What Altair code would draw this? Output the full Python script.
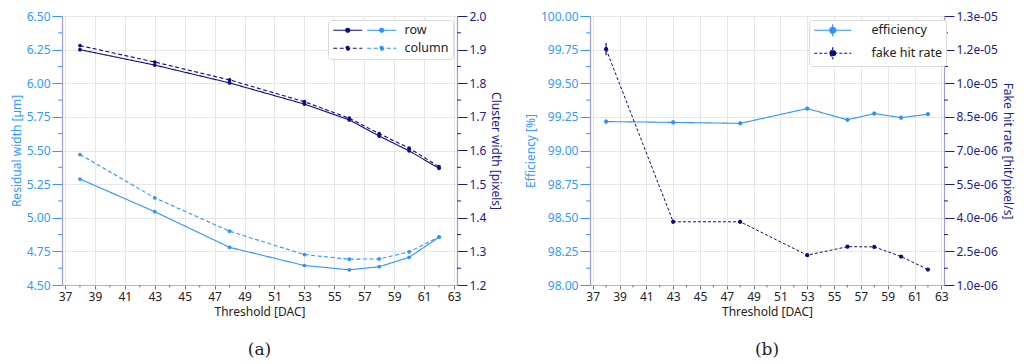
import altair as alt
import pandas as pd

# ---------------- data ----------------
threshold = [38, 43, 48, 53, 56, 58, 60, 62]
residual_row = [5.288, 5.045, 4.780, 4.645, 4.613, 4.636, 4.706, 4.855]
residual_col = [5.470, 5.148, 4.900, 4.726, 4.692, 4.694, 4.746, 4.858]
cluster_row = [1.900, 1.854, 1.801, 1.738, 1.691, 1.643, 1.599, 1.547]
cluster_col = [1.912, 1.863, 1.810, 1.745, 1.696, 1.650, 1.607, 1.552]
efficiency = [99.215, 99.209, 99.202, 99.312, 99.228, 99.275, 99.244, 99.270]
efficiency_err = [0.016, 0.014, 0.014, 0.014, 0.014, 0.014, 0.014, 0.014]
fake_hit_rate_e6 = [11.52, 3.82, 3.82, 2.33, 2.71, 2.70, 2.27, 1.69]
fake_hit_rate_err_e6 = [0.27, 0.09, 0.09, 0.07, 0.07, 0.07, 0.06, 0.06]

directions = ["row", "column"]
series_names = ["efficiency", "fake hit rate"]

x_ticks = [37, 39, 41, 43, 45, 47, 49, 51, 53, 55, 57, 59, 61, 63]
x_minor = [38, 40, 42, 44, 46, 48, 50, 52, 54, 56, 58, 60, 62]
res_ticks = [4.5, 4.75, 5.0, 5.25, 5.5, 5.75, 6.0, 6.25, 6.5]
res_minor = [4.625, 4.875, 5.125, 5.375, 5.625, 5.875, 6.125, 6.375]
clw_ticks = [1.2, 1.3, 1.4, 1.5, 1.6, 1.7, 1.8, 1.9, 2.0]
clw_minor = [1.25, 1.35, 1.45, 1.55, 1.65, 1.75, 1.85, 1.95]
eff_ticks = [98.0, 98.25, 98.5, 98.75, 99.0, 99.25, 99.5, 99.75, 100.0]
eff_minor = [98.125, 98.375, 98.625, 98.875, 99.125, 99.375, 99.625, 99.875]
fhr_ticks = [1.0, 2.5, 4.0, 5.5, 7.0, 8.5, 10.0, 11.5, 13.0]
fhr_tick_labels = ["1.0e-06", "2.5e-06", "4.0e-06", "5.5e-06", "7.0e-06",
                   "8.5e-06", "1.0e-05", "1.2e-05", "1.3e-05"]
fhr_minor = [1.75, 3.25, 4.75, 6.25, 7.75, 9.25, 10.75, 12.25]

# ---------------- style ----------------
NAVY = "#0c0c82"
LIGHT = "#2e93fb"
NAVY_TXT = "#1c1c8c"
LIGHT_TXT = "#3399ff"
GRID = "#e6e6e6"
DOMAIN = "#9c9cd2"
FONT = "Noto Sans"
W1, W2, H = 395, 354, 269
PANEL_SHIFT = 534   # offset of panel (b) plot origin from panel (a) plot origin

# ---------------- tables ----------------
res_df = pd.DataFrame({"t": threshold * 2, "v": residual_row + residual_col,
                       "dir": [directions[0]] * len(threshold) + [directions[1]] * len(threshold)})
clw_df = pd.DataFrame({"t": threshold * 2, "v": cluster_row + cluster_col,
                       "dir": [directions[0]] * len(threshold) + [directions[1]] * len(threshold)})
eff_df = pd.DataFrame({"t": threshold, "v": efficiency, "s": series_names[0]})
eff_df["lo"] = [v - e for v, e in zip(efficiency, efficiency_err)]
eff_df["hi"] = [v + e for v, e in zip(efficiency, efficiency_err)]
fhr_df = pd.DataFrame({"t": threshold, "v": fake_hit_rate_e6, "s": series_names[1]})
fhr_df["lo"] = [v - e for v, e in zip(fake_hit_rate_e6, fake_hit_rate_err_e6)]
fhr_df["hi"] = [v + e for v, e in zip(fake_hit_rate_e6, fake_hit_rate_err_e6)]

xs = alt.Scale(domain=[36.8, 63.2], nice=False, zero=False)
xaxis = alt.Axis(values=x_ticks, format="d", title="Threshold [DAC]", grid=True, gridColor=GRID,
                 domainColor="#b4b4c8", tickColor="#777777", tickSize=4, labelPadding=2,
                 labelColor="#222222", titleColor="#222222", labelFont=FONT, titleFont=FONT,
                 labelFontSize=12, titleFontSize=12, titleFontWeight="normal", titlePadding=4)


def yaxis(orient, values, fmt, title, color, grid, label_expr=None):
    kw = dict(orient=orient, values=values, format=fmt, title=title, grid=grid,
              gridColor=GRID, domainColor=DOMAIN, domainWidth=1.2, tickColor=color,
              tickSize=10, labelPadding=2, labelColor=color, titleColor=color,
              labelFont=FONT, titleFont=FONT, labelFontSize=12, titleFontSize=12,
              titleFontWeight="normal", titlePadding=3)
    if label_expr:
        kw["labelExpr"] = label_expr
    return alt.Axis(**kw)


def xenc(field):
    return alt.X(f"{field}:Q", scale=xs, axis=xaxis)


def minor_y(values, scale, axis, color, right, width):
    df = pd.DataFrame({"m": values})
    x0 = width if right else 0
    x1 = width + 4 if right else -4
    return alt.Chart(df).mark_rule(color=color, strokeWidth=1).encode(
        y=alt.Y("m:Q", scale=scale, axis=axis), x=alt.value(x0), x2=alt.value(x1))


def minor_x():
    df = pd.DataFrame({"m": x_minor})
    return alt.Chart(df).mark_rule(color="#777777", strokeWidth=1).encode(
        x=xenc("m"), y=alt.value(H), y2=alt.value(H + 2.5))


dash_scale = alt.Scale(domain=directions, range=[[1, 0], [4, 2.5]])

# legend symbol paths (unit = 5 px with symbolSize 100)
PATH_NAVY = "M-1,0H4.8M2.3,0A0.4,0.4,0,1,1,1.5,0A0.4,0.4,0,1,1,2.3,0Z"
PATH_LIGHT = "M5.8,0H11.6M9.1,0A0.4,0.4,0,1,1,8.3,0A0.4,0.4,0,1,1,9.1,0Z"
PATH_ERR = "M-1,0H6.4M2.7,-1.2V1.2M3.3,0A0.6,0.6,0,1,1,2.1,0A0.6,0.6,0,1,1,3.3,0Z"

common_leg = dict(title=None, orient="none", legendY=4, symbolSize=100, symbolStrokeWidth=1.2,
                  labelFont=FONT, labelFontSize=12.5, padding=4, rowPadding=5)

legA = alt.Legend(legendX=266, symbolType=PATH_NAVY, labelOffset=60, labelColor="#222222",
                  strokeColor="#d9d9d9", fillColor="white", cornerRadius=3, zindex=1,
                  symbolFillColor=NAVY, symbolStrokeColor=NAVY, **common_leg)
legB = alt.Legend(legendX=266, symbolType=PATH_LIGHT, labelOffset=60, labelColor="rgba(0,0,0,0)",
                  zindex=2, symbolFillColor=LIGHT, symbolStrokeColor=LIGHT, **common_leg)

# ---------------- panel (a) ----------------
ys_res = alt.Scale(domain=[4.5, 6.5], nice=False, zero=False)
ys_clw = alt.Scale(domain=[1.2, 2.0], nice=False, zero=False)
ax_res = yaxis("left", res_ticks, ".2f", "Residual width [µm]", LIGHT_TXT, True)
ax_clw = yaxis("right", clw_ticks, ".1f", "Cluster width [pixels]", NAVY_TXT, False)

res_line = alt.Chart(res_df).mark_line(color=LIGHT, strokeWidth=1.1).encode(
    x=xenc("t"), y=alt.Y("v:Q", scale=ys_res, axis=ax_res),
    strokeDash=alt.StrokeDash("dir:N", scale=dash_scale, legend=legB))
res_pts = alt.Chart(res_df).mark_circle(color=LIGHT, size=14, opacity=1).encode(
    x=xenc("t"), y=alt.Y("v:Q", scale=ys_res, axis=ax_res))
left_a = alt.layer(res_line, res_pts,
                   minor_y(res_minor, ys_res, ax_res, LIGHT_TXT, False, W1), minor_x())

clw_line = alt.Chart(clw_df).mark_line(color=NAVY, strokeWidth=1.1).encode(
    x=xenc("t"), y=alt.Y("v:Q", scale=ys_clw, axis=ax_clw),
    strokeDash=alt.StrokeDash("dir:N", scale=dash_scale, legend=legA))
clw_pts = alt.Chart(clw_df).mark_circle(color=NAVY, size=14, opacity=1).encode(
    x=xenc("t"), y=alt.Y("v:Q", scale=ys_clw, axis=ax_clw))
right_a = alt.layer(clw_line, clw_pts, minor_y(clw_minor, ys_clw, ax_clw, NAVY_TXT, True, W1))

panel_a = alt.layer(left_a, right_a).resolve_scale(
    y="independent", strokeDash="independent").properties(
    width=W1, height=H,
    title=alt.TitleParams("(a)", orient="bottom", font="DejaVu Serif", fontSize=17,
                          fontWeight="normal", color="#222222", offset=25, anchor="middle"))

# ---------------- panel (b) ----------------
ys_eff = alt.Scale(domain=[98.0, 100.0], nice=False, zero=False)
ys_fhr = alt.Scale(domain=[1.0, 13.0], nice=False, zero=False)
ax_eff = yaxis("left", eff_ticks, ".2f", "Efficiency [%]", LIGHT_TXT, True)
fhr_expr = " : ".join(f"datum.value == {v} ? '{lab}'" for v, lab in zip(fhr_ticks, fhr_tick_labels)) + " : ''"
ax_fhr = yaxis("right", fhr_ticks, ".1f", "Fake hit rate [hit/pixel/s]", NAVY_TXT, False, fhr_expr)

color_scale = alt.Scale(domain=series_names, range=[LIGHT, NAVY])
sdash_scale = alt.Scale(domain=series_names, range=[[1, 0], [3, 2]])
legR = alt.Legend(legendX=PANEL_SHIFT + 213, symbolType=PATH_ERR, labelOffset=46, labelColor="#222222",
                  strokeColor="#d9d9d9", fillColor="white", cornerRadius=3, **common_leg)

eff_line = alt.Chart(eff_df).mark_line(strokeWidth=1.1).encode(
    x=xenc("t"), y=alt.Y("v:Q", scale=ys_eff, axis=ax_eff),
    stroke=alt.Stroke("s:N", scale=color_scale, legend=legR),
    strokeDash=alt.StrokeDash("s:N", scale=sdash_scale, legend=legR))
eff_err = alt.Chart(eff_df).mark_rule(color=LIGHT, strokeWidth=1.2).encode(
    x=xenc("t"), y=alt.Y("lo:Q", scale=ys_eff, axis=ax_eff), y2="hi:Q")
eff_pts = alt.Chart(eff_df).mark_circle(size=18, opacity=1).encode(
    x=xenc("t"), y=alt.Y("v:Q", scale=ys_eff, axis=ax_eff),
    fill=alt.Fill("s:N", scale=color_scale, legend=legR))
left_b = alt.layer(eff_line, eff_err, eff_pts,
                   minor_y(eff_minor, ys_eff, ax_eff, LIGHT_TXT, False, W2), minor_x())

fhr_line = alt.Chart(fhr_df).mark_line(strokeWidth=1.0).encode(
    x=xenc("t"), y=alt.Y("v:Q", scale=ys_fhr, axis=ax_fhr),
    stroke=alt.Stroke("s:N", scale=color_scale, legend=legR),
    strokeDash=alt.StrokeDash("s:N", scale=sdash_scale, legend=legR))
fhr_err = alt.Chart(fhr_df).mark_rule(color=NAVY, strokeWidth=1.2).encode(
    x=xenc("t"), y=alt.Y("lo:Q", scale=ys_fhr, axis=ax_fhr), y2="hi:Q")
fhr_pts = alt.Chart(fhr_df).mark_circle(size=18, opacity=1).encode(
    x=xenc("t"), y=alt.Y("v:Q", scale=ys_fhr, axis=ax_fhr),
    fill=alt.Fill("s:N", scale=color_scale, legend=legR))
right_b = alt.layer(fhr_line, fhr_err, fhr_pts, minor_y(fhr_minor, ys_fhr, ax_fhr, NAVY_TXT, True, W2))

panel_b = alt.layer(left_b, right_b).resolve_scale(y="independent").properties(
    width=W2, height=H,
    title=alt.TitleParams("(b)", orient="bottom", font="DejaVu Serif", fontSize=17,
                          fontWeight="normal", color="#222222", offset=25, anchor="middle"))

chart = alt.hconcat(panel_a, panel_b, spacing=22).properties(
    padding={"left": 2, "top": 2, "right": 2, "bottom": 2}
).configure_view(stroke=None)

chart.save("out.html", embed_options={"renderer": "svg", "actions": False})
